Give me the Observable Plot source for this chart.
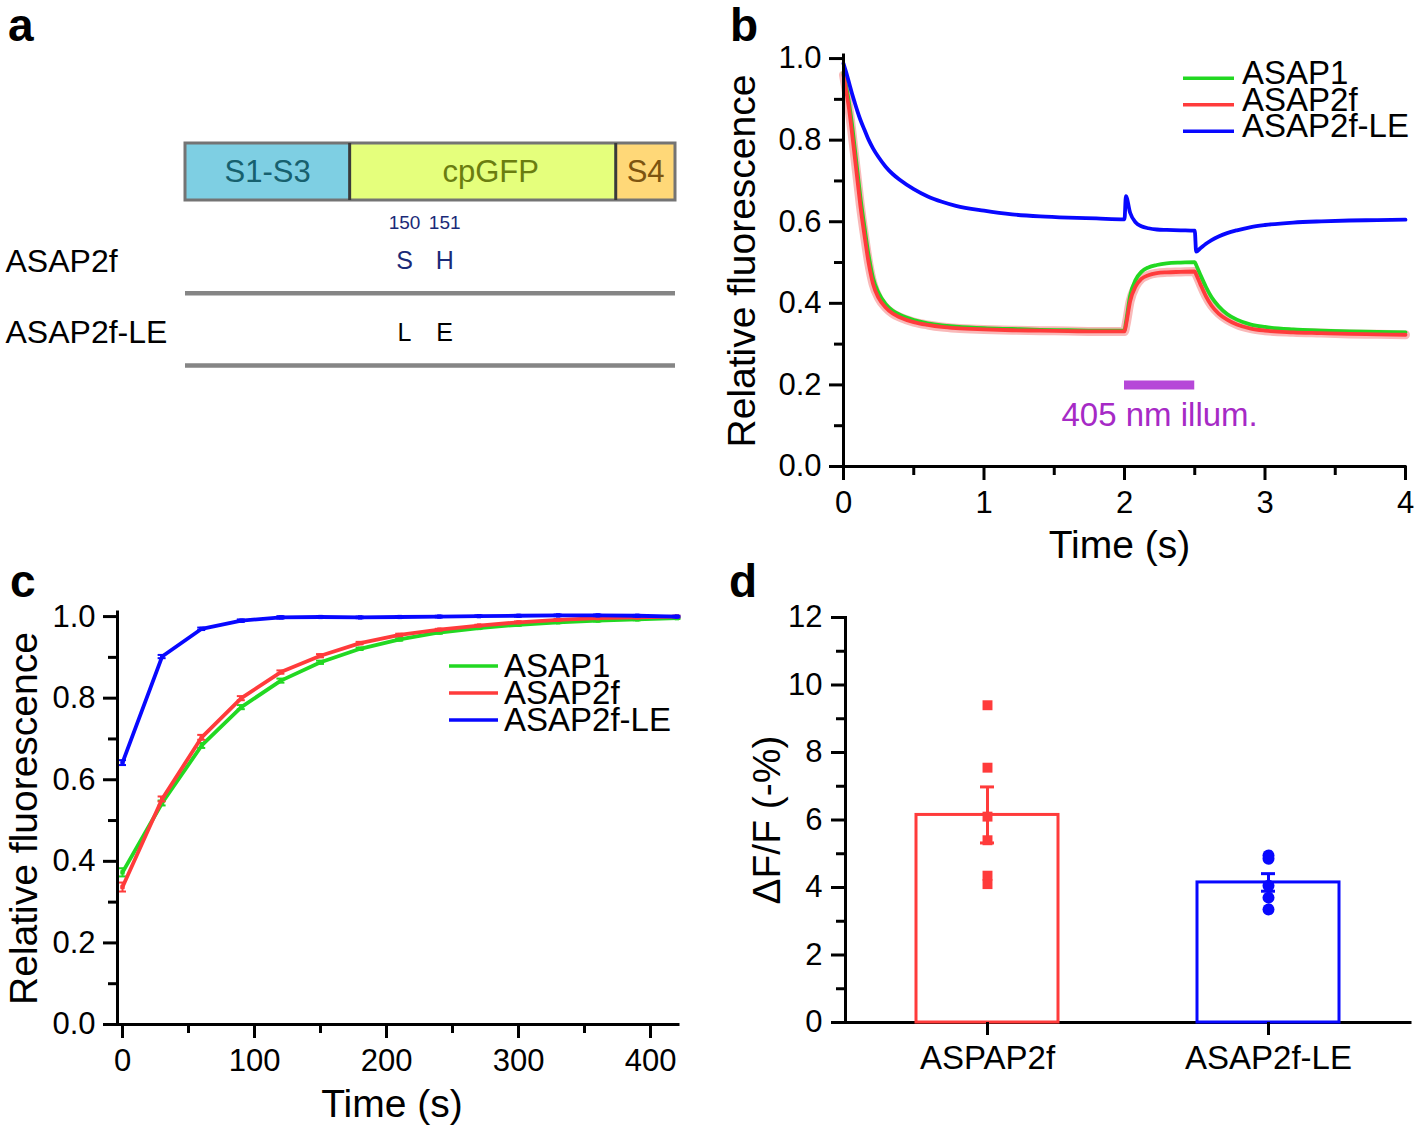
<!DOCTYPE html>
<html>
<head>
<meta charset="utf-8">
<script src="https://cdn.jsdelivr.net/npm/d3@7"></script>
<script src="https://cdn.jsdelivr.net/npm/@observablehq/plot@0.6"></script>
<style>
  html, body { margin: 0; padding: 0; background: #fff; }
  #fig { position: relative; width: 1418px; height: 1130px; overflow: hidden; background: #fff;
         font-family: "Liberation Sans", Arial, Helvetica, sans-serif; }
  .letter { position: absolute; font-weight: bold; font-size: 46px; line-height: 50px; color: #000; }
</style>
</head>
<body>
<div id="fig"></div>
<script>
// ---------------- DATA ----------------
// Series (panels b, c)
const seriesNames = ["ASAP1", "ASAP2f", "ASAP2f-LE"];

// Panel b: relative fluorescence vs time (s)
const timeB = [0, 0.02, 0.04, 0.06, 0.08, 0.10, 0.12, 0.15, 0.18, 0.21, 0.25, 0.30, 0.35, 0.40, 0.50, 0.60, 0.70, 0.80,
  1.00, 1.20, 1.40, 1.60, 1.80, 2.00, 2.01, 2.04, 2.08, 2.12, 2.17, 2.23, 2.30, 2.40, 2.50, 2.51, 2.54, 2.58, 2.62,
  2.67, 2.73, 2.80, 2.90, 3.00, 3.20, 3.40, 3.60, 3.80, 4.00];
const asap1B = [0.965, 0.93, 0.89, 0.84, 0.78, 0.72, 0.66, 0.585, 0.515, 0.462, 0.425, 0.398, 0.382, 0.372, 0.359, 0.351, 0.346, 0.343,
  0.339, 0.337, 0.335, 0.334, 0.333, 0.333, 0.352, 0.418, 0.458, 0.477, 0.488, 0.494, 0.498, 0.500, 0.501, 0.494, 0.470, 0.440, 0.415,
  0.393, 0.374, 0.360, 0.348, 0.342, 0.336, 0.333, 0.331, 0.330, 0.329];
const asap2fB = [0.96, 0.92, 0.875, 0.82, 0.76, 0.70, 0.64, 0.565, 0.497, 0.448, 0.413, 0.390, 0.375, 0.366, 0.354, 0.347, 0.342, 0.339,
  0.336, 0.334, 0.333, 0.332, 0.331, 0.331, 0.346, 0.405, 0.442, 0.460, 0.469, 0.474, 0.476, 0.477, 0.478, 0.471, 0.447, 0.417, 0.394,
  0.375, 0.360, 0.348, 0.338, 0.333, 0.329, 0.327, 0.325, 0.324, 0.323];
const asap2fLEB = [0.988, 0.965, 0.94, 0.915, 0.892, 0.87, 0.85, 0.825, 0.80, 0.78, 0.758, 0.735, 0.717, 0.703, 0.68, 0.662, 0.649, 0.639,
  0.627, 0.618, 0.613, 0.610, 0.608, 0.606, 0.663, 0.622, 0.598, 0.589, 0.584, 0.581, 0.580, 0.579, 0.578, 0.527, 0.535, 0.546, 0.555,
  0.564, 0.572, 0.579, 0.587, 0.592, 0.598, 0.601, 0.603, 0.604, 0.605];
const illumStart = 2.0, illumEnd = 2.5, illumLevel = 0.2, illumLabel = "405 nm illum.";

// Panel c: recovery, relative fluorescence vs time (s), mean and SEM
const timeC = [0, 30, 60, 90, 120, 150, 180, 210, 240, 270, 300, 330, 360, 390, 420];
const asap1C = [0.373, 0.543, 0.684, 0.778, 0.843, 0.888, 0.921, 0.944, 0.961, 0.972, 0.980, 0.986, 0.990, 0.993, 0.996];
const asap2fC = [0.337, 0.553, 0.704, 0.800, 0.864, 0.904, 0.935, 0.955, 0.968, 0.978, 0.986, 0.992, 0.996, 0.998, 1.000];
const asap2fLEC = [0.642, 0.902, 0.970, 0.990, 0.998, 0.999, 0.998, 0.999, 1.000, 1.001, 1.002, 1.003, 1.003, 1.002, 1.000];
const asap1CSem = [0.010, 0.006, 0.006, 0.005, 0.005, 0.004, 0.003, 0.003, 0.003, 0.002, 0.002, 0.002, 0.002, 0.002, 0.002];
const asap2fCSem = [0.011, 0.006, 0.006, 0.005, 0.004, 0.004, 0.003, 0.003, 0.002, 0.002, 0.002, 0.002, 0.002, 0.002, 0.002];
const asap2fLECSem = [0.006, 0.004, 0.003, 0.003, 0.003, 0.002, 0.002, 0.002, 0.002, 0.002, 0.002, 0.002, 0.002, 0.002, 0.002];

// Panel d: ΔF/F (-%)
const categoriesD = ["ASPAP2f", "ASAP2f-LE"];
const meansD = [6.15, 4.15];
const semsD = [0.83, 0.26];
const pointsASAP2f = [9.4, 7.55, 6.1, 5.4, 4.35, 4.1];
const pointsASAP2fLE = [4.95, 4.85, 4.05, 3.7, 3.35];

// Panel a: construct schematic (relative position along construct, 0–100)
const domainNames = ["S1-S3", "cpGFP", "S4"];
const domainStarts = [0, 33.5, 87.8];
const domainEnds = [33.5, 87.8, 100];
const siteNumbers = [150, 151];
const sitePositions = [44.7, 52.9];
const variantNames = ["ASAP2f", "ASAP2f-LE"];
const variantResidues = [["S", "H"], ["L", "E"]];

// ---------------- STYLE ----------------
const FONT = '"Liberation Sans", Arial, Helvetica, sans-serif';
const GREEN = "#22d822", RED = "#ff3b3b", BLUE = "#0808ff";
const seriesColors = [GREEN, RED, BLUE];
const PURPLE_BAR = "#b648d8", PURPLE_TEXT = "#a62ac6";
const domainFills = ["#7ecfe3", "#e5ff7c", "#ffd878"];
const domainTextColors = ["#17606e", "#6a7d10", "#7d5410"];
const NAVY = "#1a2a78";
const TICK_FS = 31, TITLE_FS = 39;

const fig = document.getElementById("fig");
function place(node, left, top, w, h) {
  const d = document.createElement("div");
  d.style.cssText = `position:absolute;left:${left}px;top:${top}px;width:${w}px;height:${h}px;`;
  d.appendChild(node);
  fig.appendChild(d);
}
const baseStyle = {fontFamily: FONT, fontSize: "29px", color: "#000", background: "transparent", overflow: "visible", maxWidth: "none"};
const blank = () => "";
const yTitle = (text, dx) => Plot.text([text], {frameAnchor: "left", rotate: -90, dx, textAnchor: "middle", lineAnchor: "bottom", fontSize: TITLE_FS});
const xTitle = (text, dx, dy) => Plot.text([text], {frameAnchor: "bottom", dx, dy, textAnchor: "middle", lineAnchor: "bottom", fontSize: TITLE_FS});

// ---------------- PANEL a ----------------
const domainsA = domainNames.map((name, i) => ({name, start: domainStarts[i], end: domainEnds[i]}));
const rowConstruct = [0, 1], rowSites = 1.4, rowVariant = [2.07, 3.32], rowSeparator = [2.626, 3.895];
const plotA = Plot.plot({
  width: 700, height: 300,
  marginLeft: 185, marginRight: 25, marginTop: 0, marginBottom: 0,
  x: {domain: [0, 100], axis: null},
  y: {domain: [0, 1], range: [43, 100], axis: null},
  style: baseStyle,
  marks: [
    ...domainsA.map((d, i) => Plot.rect([d], {x1: "start", x2: "end", y1: rowConstruct[0], y2: rowConstruct[1], fill: domainFills[i]})),
    Plot.rect([{start: 0, end: 100}], {x1: "start", x2: "end", y1: rowConstruct[0], y2: rowConstruct[1], fill: "none", stroke: "#747474", strokeWidth: 3}),
    Plot.ruleX(domainsA.slice(1), {x: "start", y1: rowConstruct[0], y2: rowConstruct[1], stroke: "#3a3a3a", strokeWidth: 3}),
    ...domainsA.map((d, i) => Plot.text([d], {x: e => (e.start + e.end) / 2, y: 0.5, dx: i === 1 ? 8 : 0, text: "name", fill: domainTextColors[i], fontSize: 31})),
    Plot.text(siteNumbers, {x: (d, i) => sitePositions[i], y: rowSites, text: d => String(d), fill: NAVY, fontSize: 19}),
    Plot.text(variantNames, {x: 0, y: (d, i) => rowVariant[i], dx: -180, textAnchor: "start", fontSize: 32, fill: "#000"}),
    ...variantResidues.map((res, r) => Plot.text(res, {x: (d, i) => sitePositions[i], y: rowVariant[r], text: d => d, fontSize: 25, fill: r === 0 ? NAVY : "#000"})),
    Plot.ruleY(rowSeparator, {x1: 0, x2: 100, stroke: "#858585", strokeWidth: 4.5})
  ]
});
place(plotA, 0, 100, 700, 300);

// ---------------- PANEL b ----------------
const rowsB = vals => timeB.map((t, i) => ({t, v: vals[i]}));
const bData = [rowsB(asap1B), rowsB(asap2fB), rowsB(asap2fLEB)];
const illum = [{start: illumStart, end: illumEnd, level: illumLevel, label: illumLabel}];
const plotB = Plot.plot({
  width: 718, height: 600,
  marginLeft: 143, marginRight: 13, marginTop: 55, marginBottom: 134,
  x: {domain: [0, 4], label: null},
  y: {domain: [0, 1.0075], label: null},
  style: baseStyle,
  marks: [
    Plot.line(bData[1], {x: "t", y: "v", stroke: "#f9b9b9", strokeWidth: 9, curve: "monotone-x"}),
    Plot.line(bData[0], {x: "t", y: "v", stroke: GREEN, strokeWidth: 3.8, curve: "monotone-x"}),
    Plot.line(bData[1], {x: "t", y: "v", stroke: RED, strokeWidth: 3.8, curve: "monotone-x"}),
    Plot.line(bData[2], {x: "t", y: "v", stroke: BLUE, strokeWidth: 3.8, curve: "monotone-x"}),
    Plot.ruleY(illum, {x1: "start", x2: "end", y: "level", stroke: PURPLE_BAR, strokeWidth: 9}),
    Plot.text(illum, {x: d => (d.start + d.end) / 2, y: "level", text: "label", dy: 41, lineAnchor: "bottom", fill: PURPLE_TEXT, fontSize: 33}),
    Plot.axisY({ticks: [0, 0.2, 0.4, 0.6, 0.8, 1.0], tickFormat: ".1f", tickSize: 14, tickPadding: 8, fontSize: TICK_FS, strokeWidth: 3, label: null}),
    Plot.axisY({ticks: [0.1, 0.3, 0.5, 0.7, 0.9], tickFormat: blank, tickSize: 9, strokeWidth: 3, label: null}),
    Plot.axisX({ticks: [0, 1, 2, 3, 4], tickFormat: "d", tickSize: 14, tickPadding: 10, fontSize: TICK_FS, strokeWidth: 3, label: null}),
    Plot.axisX({ticks: [0.5, 1.5, 2.5, 3.5], tickFormat: blank, tickSize: 9, strokeWidth: 3, label: null}),
    Plot.ruleX([0], {strokeWidth: 3, strokeLinecap: "square"}),
    Plot.ruleY([0], {strokeWidth: 3, strokeLinecap: "square"}),
    yTitle("Relative fluorescence", -89),
    xTitle("Time (s)", -5, 91)
  ]
});
place(plotB, 700, 0, 718, 600);

// ---------------- PANEL c ----------------
const xDomainC = [-3.8, 421.2];
const rowsC = (vals, sems) => timeC.map((t, i) => ({t, v: vals[i], lo: vals[i] - sems[i], hi: vals[i] + sems[i]}));
const cData = [rowsC(asap1C, asap1CSem), rowsC(asap2fC, asap2fCSem), rowsC(asap2fLEC, asap2fLECSem)];
const cMarks = [];
cData.forEach((rows, k) => {
  const c = seriesColors[k];
  cMarks.push(
    Plot.line(rows, {x: "t", y: "v", stroke: c, strokeWidth: 3.8}),
    Plot.ruleX(rows, {x: "t", y1: "lo", y2: "hi", stroke: c, strokeWidth: 2}),
    Plot.ruleY(rows, {x1: "t", x2: "t", y: "lo", stroke: c, strokeWidth: 2, insetLeft: -4, insetRight: -4}),
    Plot.ruleY(rows, {x1: "t", x2: "t", y: "hi", stroke: c, strokeWidth: 2, insetLeft: -4, insetRight: -4}),
    Plot.dot(rows, {x: "t", y: "v", symbol: "square", fill: c, r: 2.4})
  );
});
const plotC = Plot.plot({
  width: 700, height: 570,
  marginLeft: 117, marginRight: 22, marginTop: 52, marginBottom: 106,
  x: {domain: xDomainC, label: null},
  y: {domain: [0, 1.01], label: null},
  style: baseStyle,
  marks: [
    ...cMarks,
    Plot.axisY({ticks: [0, 0.2, 0.4, 0.6, 0.8, 1.0], tickFormat: ".1f", tickSize: 14, tickPadding: 8, fontSize: TICK_FS, strokeWidth: 3, label: null}),
    Plot.axisY({ticks: [0.1, 0.3, 0.5, 0.7, 0.9], tickFormat: blank, tickSize: 9, strokeWidth: 3, label: null}),
    Plot.axisX({ticks: [0, 100, 200, 300, 400], tickFormat: "d", tickSize: 14, tickPadding: 10, fontSize: TICK_FS, strokeWidth: 3, label: null}),
    Plot.axisX({ticks: [50, 150, 250, 350], tickFormat: blank, tickSize: 9, strokeWidth: 3, label: null}),
    Plot.ruleX([xDomainC[0]], {strokeWidth: 3, strokeLinecap: "square"}),
    Plot.ruleY([0], {strokeWidth: 3, strokeLinecap: "square"}),
    yTitle("Relative fluorescence", -81),
    xTitle("Time (s)", -6, 92)
  ]
});
place(plotC, 0, 560, 700, 570);

// ---------------- PANEL d ----------------
const barsD = categoriesD.map((cat, i) => ({cat, mean: meansD[i], sem: semsD[i]}));
const ptsD = [
  ...pointsASAP2f.map(v => ({cat: categoriesD[0], v})),
  ...pointsASAP2fLE.map(v => ({cat: categoriesD[1], v}))
];
const plotD = Plot.plot({
  width: 718, height: 570,
  marginLeft: 145, marginRight: 8, marginTop: 57, marginBottom: 108,
  x: {type: "band", domain: categoriesD, paddingInner: 0.495, paddingOuter: 0.25, label: null},
  y: {domain: [0, 12], label: null},
  color: {domain: categoriesD, range: [RED, BLUE]},
  style: baseStyle,
  marks: [
    Plot.ruleY([0], {strokeWidth: 3, strokeLinecap: "square"}),
    Plot.barY(barsD, {x: "cat", y: "mean", fill: "white", stroke: "cat", strokeWidth: 3}),
    Plot.ruleX(barsD, {x: "cat", y1: d => d.mean - d.sem, y2: d => d.mean + d.sem, stroke: "cat", strokeWidth: 3}),
    Plot.tickY(barsD, {x: "cat", y: d => d.mean + d.sem, stroke: "cat", strokeWidth: 3, insetLeft: 64, insetRight: 64}),
    Plot.tickY(barsD, {x: "cat", y: d => d.mean - d.sem, stroke: "cat", strokeWidth: 3, insetLeft: 64, insetRight: 64}),
    Plot.dot(ptsD.filter(d => d.cat === categoriesD[0]), {x: "cat", y: "v", symbol: "square", fill: "cat", r: 5.6}),
    Plot.dot(ptsD.filter(d => d.cat === categoriesD[1]), {x: "cat", y: "v", symbol: "circle", fill: "cat", r: 6}),
    Plot.axisY({ticks: [0, 2, 4, 6, 8, 10, 12], tickSize: 14, tickPadding: 9, fontSize: TICK_FS, strokeWidth: 3, label: null}),
    Plot.axisY({ticks: [1, 3, 5, 7, 9, 11], tickFormat: blank, tickSize: 9, strokeWidth: 3, label: null}),
    Plot.axisX({tickSize: 13, tickPadding: 10, fontSize: 33, strokeWidth: 3, label: null}),
    Plot.frame({anchor: "left", strokeWidth: 3}),
    yTitle("ΔF/F (-%)", -66)
  ]
});
place(plotD, 700, 560, 718, 570);

// ---------------- Legends (panels b and c) ----------------
const overlay = d3.create("svg")
  .attr("width", 1418).attr("height", 1130)
  .style("position", "absolute").style("left", "0px").style("top", "0px")
  .style("pointer-events", "none").style("font-family", FONT);
function legend(x1, x2, textX, lineY0, baseY0, step, fontSize) {
  seriesNames.forEach((name, i) => {
    overlay.append("line").attr("x1", x1).attr("x2", x2)
      .attr("y1", lineY0 + i * step).attr("y2", lineY0 + i * step)
      .attr("stroke", seriesColors[i]).attr("stroke-width", 3.5);
    overlay.append("text").attr("x", textX).attr("y", baseY0 + i * step)
      .attr("font-size", fontSize).attr("fill", "#000").text(name);
  });
}
legend(1183, 1234, 1242, 78.3, 84, 26.5, 33);
legend(449, 498, 504, 666, 677, 27, 33);
fig.appendChild(overlay.node());

// ---------------- Panel letters ----------------
[["a", 8, 0], ["b", 730, 0], ["c", 10, 556], ["d", 729, 556]].forEach(([t, l, tp]) => {
  const s = document.createElement("div");
  s.className = "letter";
  s.style.left = l + "px"; s.style.top = tp + "px";
  s.textContent = t;
  fig.appendChild(s);
});
</script>
</body>
</html>
